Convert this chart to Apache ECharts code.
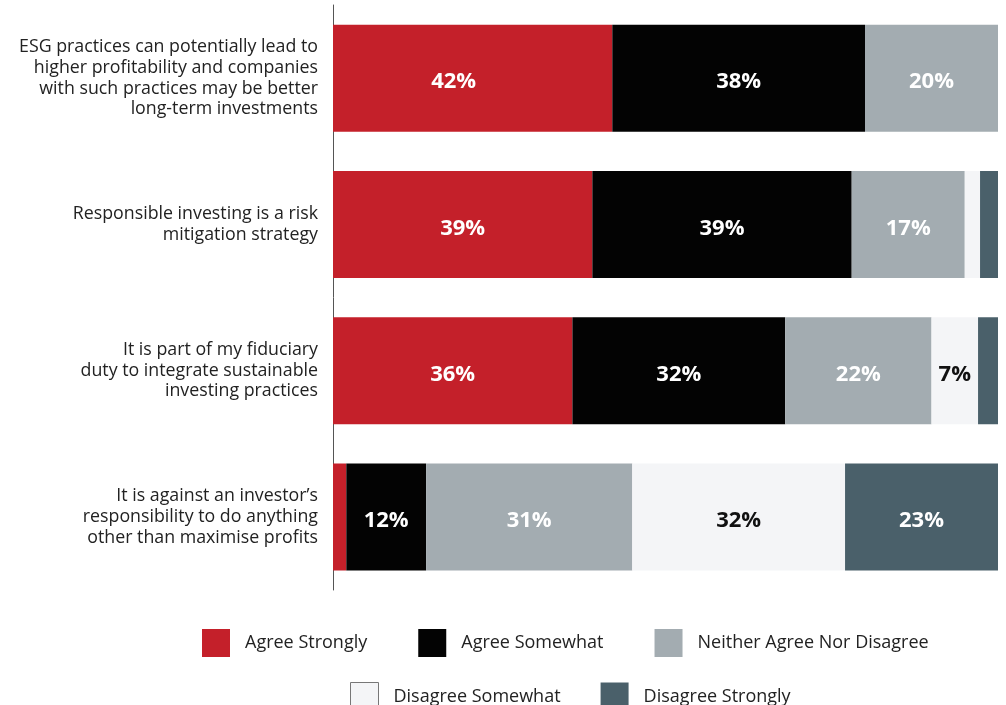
<!DOCTYPE html>
<html>
<head>
<meta charset="utf-8">
<style>
  html, body { margin: 0; padding: 0; background: #ffffff; }
  #chart { width: 1006px; height: 705px; }
</style>
<script src="https://cdn.jsdelivr.net/npm/echarts@6/dist/echarts.min.js"></script>
</head>
<body>
<div id="chart"></div>
<script>
// Survey statements (top to bottom)
const statements = [
  'ESG practices can potentially lead to\nhigher profitability and companies\nwith such practices may be better\nlong-term investments',
  'Responsible investing is a risk\nmitigation strategy',
  'It is part of my fiduciary\nduty to integrate sustainable\ninvesting practices',
  'It is against an investor\u2019s\nresponsibility to do anything\nother than maximise profits'
];

// Share of respondents (%) per answer, same order as statements
const agreeStrongly      = [42, 39, 36, 2];
const agreeSomewhat      = [38, 39, 32, 12];
const neitherAgree       = [20, 17, 22, 31];
const disagreeSomewhat   = [0, 2.3, 7, 32];
const disagreeStrongly   = [0, 2.7, 3, 23];

const seriesNames = ['Agree Strongly', 'Agree Somewhat', 'Neither Agree Nor Disagree', 'Disagree Somewhat', 'Disagree Strongly'];
const seriesData = [agreeStrongly, agreeSomewhat, neitherAgree, disagreeSomewhat, disagreeStrongly];
const seriesColors = ['#C4202A', '#030303', '#A3ACB1', '#F4F5F7', '#4A606A'];
const labelColors = ['#ffffff', '#ffffff', '#ffffff', '#111111', '#ffffff'];

const chart = echarts.init(document.getElementById('chart'));

const series = seriesNames.map((name, i) => ({
  name: name,
  type: 'bar',
  stack: 'total',
  barWidth: 107,
  // the first statement's "Agree Strongly" label sits a little left of centre
  data: seriesData[i].map((v, j) =>
    (i === 0 && j === 0) ? { value: v, label: { offset: [-19, 4] } } : v
  ),
  itemStyle: { color: seriesColors[i] },
  emphasis: { disabled: true },
  label: {
    show: true,
    position: 'inside',
    offset: [0, 4],
    color: labelColors[i],
    fontFamily: 'Open Sans',
    fontWeight: 'bold',
    fontSize: 22,
    formatter: p => (p.value >= 5 ? Math.round(p.value) + '%' : '')
  }
}));

const legendText = { color: '#222', fontSize: 18, fontFamily: 'Open Sans', padding: [0, 0, 0, 10] };

chart.setOption({
  animation: false,
  grid: { left: 333, right: 8, top: 5, height: 585 },
  xAxis: {
    type: 'value',
    min: 0,
    max: 100,
    show: false
  },
  yAxis: {
    type: 'category',
    inverse: true,
    data: statements,
    axisLine: { show: true, lineStyle: { color: '#555', width: 1 } },
    axisTick: { show: false },
    axisLabel: {
      margin: 15,
      align: 'right',
      color: '#222',
      fontFamily: 'Open Sans',
      fontSize: 17.8,
      lineHeight: 20.7
    }
  },
  legend: [
    {
      left: 202,
      top: 629,
      padding: 0,
      orient: 'horizontal',
      itemWidth: 28,
      itemHeight: 28,
      itemGap: 51,
      icon: 'rect',
      selectedMode: false,
      textStyle: legendText,
      data: seriesNames.slice(0, 3)
    },
    {
      left: 350,
      top: 682,
      padding: 0,
      orient: 'horizontal',
      itemWidth: 28,
      itemHeight: 28,
      itemGap: 40,
      icon: 'rect',
      selectedMode: false,
      textStyle: legendText,
      data: [
        { name: seriesNames[3], itemStyle: { borderColor: '#777', borderWidth: 1 } },
        seriesNames[4]
      ]
    }
  ],
  series: series
});
</script>
</body>
</html>
